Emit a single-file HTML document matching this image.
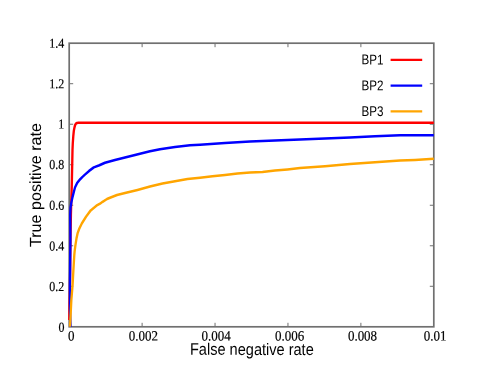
<!DOCTYPE html>
<html><head><meta charset="utf-8"><title>ROC</title>
<style>
html,body{margin:0;padding:0;background:#fff;}
svg{display:block;}
.t{font-family:"Liberation Serif",serif;font-size:14.25px;fill:#000;stroke:#000;stroke-width:0.2px;text-rendering:geometricPrecision;}
.s{font-family:"Liberation Sans",sans-serif;fill:#000;text-rendering:geometricPrecision;}
</style></head><body>
<svg width="491" height="382" viewBox="0 0 491 382">
<rect width="491" height="382" fill="#fff"/>
<path d="M69.2,286.29h4.0 M433.8,286.29h-4.0 M69.2,245.77h4.0 M433.8,245.77h-4.0 M69.2,205.26h4.0 M433.8,205.26h-4.0 M69.2,164.74h4.0 M433.8,164.74h-4.0 M69.2,124.23h4.0 M433.8,124.23h-4.0 M69.2,83.71h4.0 M433.8,83.71h-4.0 M142.12,326.8v-4.0 M142.12,43.2v4.0 M215.04,326.8v-4.0 M215.04,43.2v4.0 M287.96,326.8v-4.0 M287.96,43.2v4.0 M360.88,326.8v-4.0 M360.88,43.2v4.0" stroke="#707070" stroke-width="1" fill="none"/>
<rect x="69.2" y="43.2" width="364.60" height="283.60" fill="none" stroke="#707070" stroke-width="1.7"/>
<g transform="scale(0.92,1)">
<path d="M75.33,320.0 L75.54,305.0 L75.98,290.0 L76.30,270.0 L76.58,240.0 L77.07,215.0 L77.50,200.0 L78.04,185.0 L78.59,160.0 L78.80,150.0 L79.13,143.0 L79.67,136.2 L80.22,131.0 L80.87,127.8 L81.52,125.4 L82.17,124.1 L82.93,123.3 L83.91,122.9 L85.00,122.8 L471.52,122.8" stroke="#ff0000" stroke-width="2.55" fill="none" stroke-linejoin="round"/>
<path d="M76.74,327.0 L76.09,310.0 L75.98,285.0 L76.30,255.0 L76.52,240.0 L76.30,215.0 L76.63,207.8 L77.61,202.3 L78.91,196.8 L80.33,191.7 L81.52,187.5 L83.91,182.8 L87.17,179.2 L89.67,176.9 L92.61,174.4 L96.85,170.9 L101.96,167.4 L108.04,165.3 L114.13,162.8 L125.00,160.0 L135.87,157.4 L148.91,154.4 L163.04,151.3 L173.91,149.2 L190.22,147.0 L206.52,145.3 L217.39,144.8 L244.57,143.1 L271.74,141.5 L298.91,140.5 L326.09,139.6 L353.26,138.6 L380.43,137.5 L407.61,136.2 L434.78,135.3 L442.39,135.2 L471.52,135.2" stroke="#0000ff" stroke-width="2.55" fill="none" stroke-linejoin="round"/>
<path d="M76.09,326.8 L76.74,315.0 L77.55,300.0 L78.91,285.0 L79.78,270.0 L80.76,255.0 L81.09,251.7 L81.96,245.4 L83.15,238.4 L84.46,232.9 L86.20,228.6 L88.91,223.5 L93.48,216.7 L98.59,210.4 L104.78,205.7 L108.70,203.7 L111.52,201.8 L116.30,199.0 L119.57,197.7 L127.17,195.0 L135.87,193.1 L149.46,189.9 L163.04,186.5 L176.63,183.5 L190.22,181.2 L203.80,179.1 L217.39,177.7 L230.98,176.2 L244.57,174.9 L258.15,173.5 L271.74,172.6 L285.33,172.0 L298.91,170.6 L312.50,169.4 L326.09,168.1 L353.26,166.2 L380.43,164.1 L407.61,162.2 L434.78,160.6 L451.09,159.9 L471.52,158.8" stroke="#ffa500" stroke-width="2.55" fill="none" stroke-linejoin="round"/>
</g>
<g style="will-change:opacity" opacity="0.999">
<text class="t" style="font-size:13.6px" transform="translate(64.5,331.7) rotate(0.08) scale(0.88,1)" text-anchor="end">0</text>
<text class="t" style="font-size:13.6px" transform="translate(64.3,291.1) rotate(0.08) scale(0.88,1)" text-anchor="end">0.2</text>
<text class="t" style="font-size:13.6px" transform="translate(64.3,250.5) rotate(0.08) scale(0.88,1)" text-anchor="end">0.4</text>
<text class="t" style="font-size:13.6px" transform="translate(64.3,209.8) rotate(0.08) scale(0.88,1)" text-anchor="end">0.6</text>
<text class="t" style="font-size:13.6px" transform="translate(64.3,169.0) rotate(0.08) scale(0.88,1)" text-anchor="end">0.8</text>
<text class="t" style="font-size:13.6px" transform="translate(64.3,128.5) rotate(0.08) scale(0.88,1)" text-anchor="end">1</text>
<text class="t" style="font-size:13.6px" transform="translate(64.3,88.2) rotate(0.08) scale(0.88,1)" text-anchor="end">1.2</text>
<text class="t" style="font-size:13.6px" transform="translate(64.3,47.7) rotate(0.08) scale(0.88,1)" text-anchor="end">1.4</text>
<text class="t" transform="translate(71.2,340.4) rotate(0.08) scale(0.912,1)" text-anchor="middle">0</text>
<text class="t" transform="translate(143.3,340.4) rotate(0.08) scale(0.912,1)" text-anchor="middle">0.002</text>
<text class="t" transform="translate(216.2,340.4) rotate(0.08) scale(0.912,1)" text-anchor="middle">0.004</text>
<text class="t" transform="translate(289.6,340.4) rotate(0.08) scale(0.912,1)" text-anchor="middle">0.006</text>
<text class="t" transform="translate(362.5,340.4) rotate(0.08) scale(0.912,1)" text-anchor="middle">0.008</text>
<text class="t" transform="translate(435.2,340.4) rotate(0.08) scale(0.912,1)" text-anchor="middle">0.01</text>
<text class="s" font-size="16.6" transform="translate(251.85,354.9) rotate(0.08) scale(0.877,1)" text-anchor="middle">False negative rate</text>
<text class="s" font-size="16.15" transform="translate(40.7,185.0) rotate(-90)" text-anchor="middle">True positive rate</text>
<text class="s" font-size="14.1" transform="translate(383.4,64.4) rotate(0.08) scale(0.824,1)" text-anchor="end">BP1</text>
<path d="M390.6,59.9H422.2" stroke="#ff0000" stroke-width="2.3"/>
<text class="s" font-size="14.1" transform="translate(383.4,90.2) rotate(0.08) scale(0.824,1)" text-anchor="end">BP2</text>
<path d="M390.6,85.6H422.2" stroke="#0000ff" stroke-width="2.3"/>
<text class="s" font-size="14.1" transform="translate(383.4,116.1) rotate(0.08) scale(0.824,1)" text-anchor="end">BP3</text>
<path d="M390.6,111.3H422.2" stroke="#ffa500" stroke-width="2.3"/>
</g>
</svg></body></html>
